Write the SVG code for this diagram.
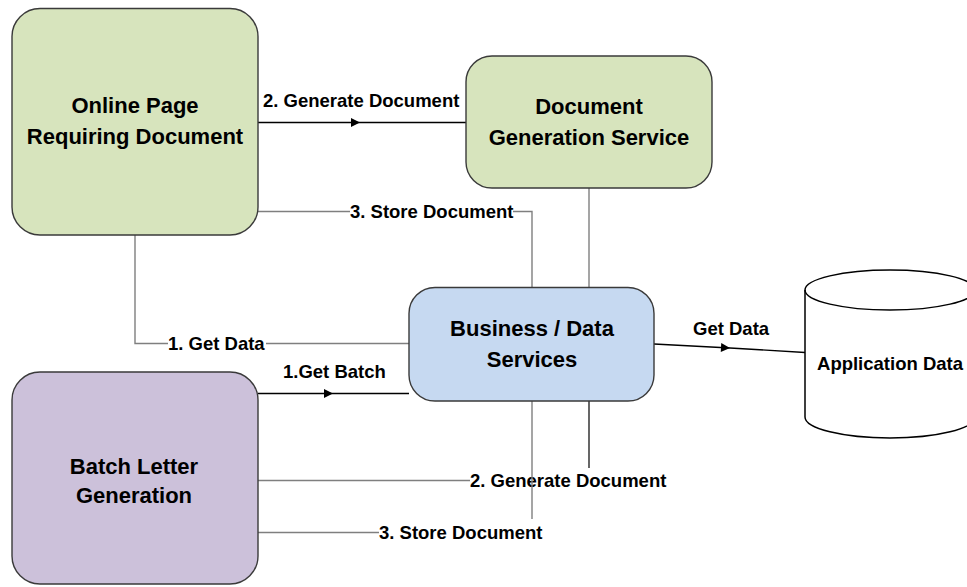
<svg xmlns="http://www.w3.org/2000/svg" width="967" height="587" viewBox="0 0 967 587">
  <defs>
    <marker id="arrow" viewBox="0 0 10 10" refX="10" refY="5" markerWidth="10" markerHeight="9" markerUnits="userSpaceOnUse" orient="auto">
      <path d="M0,0 L10,5 L0,10 Z" fill="#000"/>
    </marker>
    <style>
      .box { stroke: #3a3a3a; stroke-width: 1.4; }
      .green { fill: #d7e4bd; }
      .blue { fill: #c6d9f1; }
      .purple { fill: #ccc1da; }
      .title { font-family: "Liberation Sans", Arial, sans-serif; font-weight: bold; font-size: 22px; fill: #000; text-anchor: middle; }
      .lbl { font-family: "Liberation Sans", Arial, sans-serif; font-weight: bold; font-size: 18.5px; fill: #000; }
      .gray { fill: none; stroke: #7f7f7f; stroke-width: 1.4; }
      .dark { fill: none; stroke: #000; stroke-width: 1.2; }
      .arr { fill: none; stroke: #000; stroke-width: 1.4; marker-mid: url(#arrow); }
    </style>
  </defs>

  <!-- connectors -->
  <g id="connectors">
    <!-- Online page -> document generation -->
    <path class="arr" d="M258,122.5 L360,122.5 L466,122.5"/>
    <text class="lbl" x="263" y="107">2. Generate Document</text>

    <!-- Online page store -> business services -->
    <path class="gray" d="M258,211.5 L350,211.5"/>
    <path class="gray" d="M513,211.5 L532,211.5 L532,287"/>
    <text class="lbl" x="350" y="218">3. Store Document</text>

    <!-- document generation <-> business services -->
    <path class="gray" d="M589,188 L589,287"/>

    <!-- Online page get data -->
    <path class="gray" d="M135,235 L135,343.5 L168,343.5"/>
    <path class="gray" d="M266,343.5 L409,343.5"/>
    <text class="lbl" x="168" y="350">1. Get Data</text>

    <!-- batch get batch -->
    <path class="arr" d="M258,393.5 L333,393.5 L409,393.5"/>
    <text class="lbl" x="283" y="378">1.Get Batch</text>

    <!-- business -> application data -->
    <path class="arr" d="M654,344 L730,348 L805,352.5"/>
    <text class="lbl" x="693" y="335">Get Data</text>

    <!-- batch generate document -->
    <path class="gray" d="M258,480.5 L470,480.5"/>
    <path class="dark" d="M589,401 L589,468"/>
    <text class="lbl" x="470" y="487">2. Generate Document</text>

    <!-- batch store document -->
    <path class="gray" d="M258,532.5 L379,532.5"/>
    <path class="gray" d="M532,401 L532,519"/>
    <text class="lbl" x="379" y="539">3. Store Document</text>
  </g>

  <!-- nodes -->
  <g id="online-page">
    <rect class="box green" x="12" y="8.5" width="246" height="226.5" rx="28" ry="28"/>
    <text class="title" x="135" y="113">Online Page</text>
    <text class="title" x="135" y="144">Requiring Document</text>
  </g>

  <g id="document-generation">
    <rect class="box green" x="466" y="56" width="246" height="132" rx="26" ry="26"/>
    <text class="title" x="589" y="114">Document</text>
    <text class="title" x="589" y="145">Generation Service</text>
  </g>

  <g id="business-services">
    <rect class="box blue" x="409" y="287.5" width="245" height="113.5" rx="26" ry="26"/>
    <text class="title" x="532" y="336">Business / Data</text>
    <text class="title" x="532" y="367">Services</text>
  </g>

  <g id="batch-letter">
    <rect class="box purple" x="12" y="372" width="246" height="212" rx="28" ry="28"/>
    <text class="title" x="134" y="474">Batch Letter</text>
    <text class="title" x="134" y="503">Generation</text>
  </g>

  <g id="application-data">
    <path d="M805,290 A85,20 0 0 1 975,290 L975,417 A85,21 0 0 1 805,417 Z" fill="#fff" stroke="#000" stroke-width="1.5"/>
    <path d="M805,290 A85,20 0 0 0 975,290" fill="none" stroke="#000" stroke-width="1.5"/>
    <text class="lbl" x="890" y="370" text-anchor="middle" font-size="17.5">Application Data</text>
  </g>
</svg>
